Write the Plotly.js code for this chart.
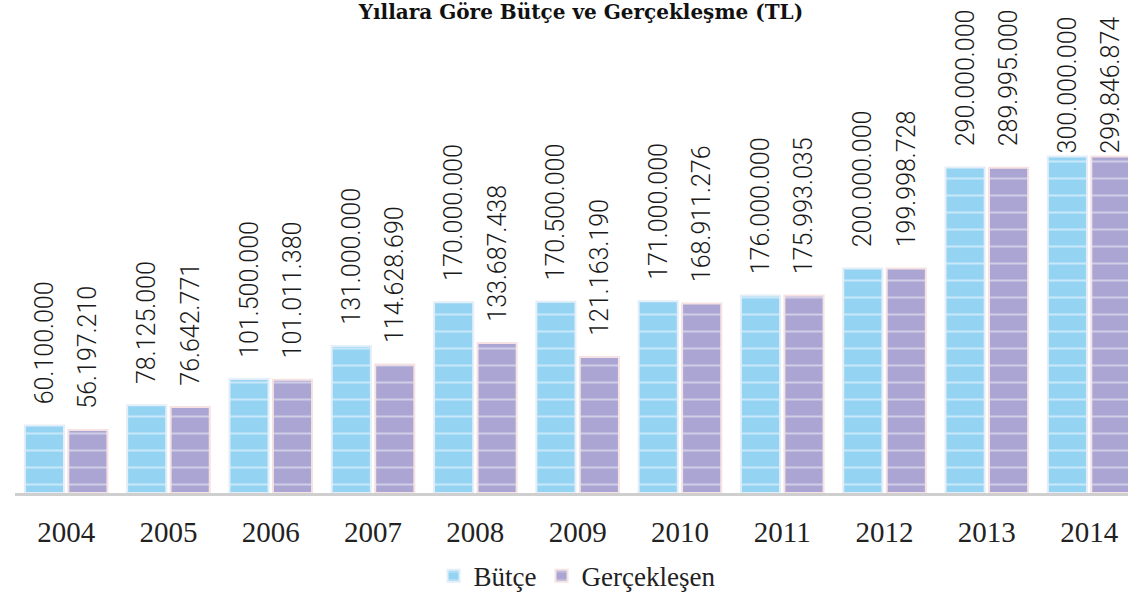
<!DOCTYPE html>
<html>
<head>
<meta charset="utf-8">
<script src="https://cdn.plot.ly/plotly-3.0.1.min.js"></script>
<style>
html,body{margin:0;padding:0;overflow:hidden;background:#fff;}
#chart{width:1128px;height:601px;}
</style>
</head>
<body>
<div id="chart"></div>
<script>
const years = ['2004','2005','2006','2007','2008','2009','2010','2011','2012','2013','2014'];
const butce = [60100000, 78125000, 101500000, 131000000, 170000000, 170500000, 171000000, 176000000, 200000000, 290000000, 300000000];
const gerceklesen = [56197210, 76642771, 101011380, 114628690, 133687438, 121163190, 168911276, 175993035, 199998728, 289995000, 299846874];
const seriesNames = ['Bütçe', 'Gerçekleşen'];
const chartTitle = 'Yıllara Göre Bütçe ve Gerçekleşme (TL)';

function fmt(v){
  return String(v).replace(/\B(?=(\d{3})+(?!\d))/g, '.');
}
// gap between bar top and its rotated label (shrinks near the top edge so labels stay inside)
function lbl(v){
  const pad = v >= 295e6 ? '' : '\u00a0\u00a0\u00a0';
  return pad + fmt(v);
}

const labelFont = {family:'Roboto', size:25, color:'#1a1a1a', weight:300};

const traces = [
  {
    type:'bar', name:seriesNames[0], x:years, y:butce,
    text:butce.map(lbl), textposition:'outside', textangle:-90,
    constraintext:'none', cliponaxis:false, textfont:labelFont,
    hoverinfo:'x+y',
    marker:{color:'#95d3f3', line:{color:'#e3eef8', width:2},
      pattern:{shape:'-', fgcolor:'rgba(255,255,255,0.95)', size:17, solidity:0.12, fillmode:'overlay'}}
  },
  {
    type:'bar', name:seriesNames[1], x:years, y:gerceklesen,
    text:gerceklesen.map(lbl), textposition:'outside', textangle:-90,
    constraintext:'none', cliponaxis:false, textfont:labelFont,
    hoverinfo:'x+y',
    marker:{color:'#aaa5d2', line:{color:'#f6e2e2', width:2},
      pattern:{shape:'-', fgcolor:'rgba(255,255,255,0.9)', size:17, solidity:0.12, fillmode:'overlay'}}
  }
];

const layout = {
  width:1128, height:601,
  margin:{l:15, r:0, t:0, b:104},
  paper_bgcolor:'#fff', plot_bgcolor:'#fff',
  barmode:'group', bargap:0.15, bargroupgap:0.1,
  title:{text:chartTitle, font:{family:'DejaVu Serif', size:20, color:'#111', weight:'bold'},
    x:0.515, xref:'container', xanchor:'center', y:0.992, yref:'container', yanchor:'top'},
  xaxis:{type:'category', range:[-0.5, 10.38], showline:true, linecolor:'#cfcfcf', linewidth:3,
    showgrid:false, zeroline:false, ticks:'', ticklabelstandoff:11,
    tickfont:{family:'Liberation Serif', size:29, color:'#222'}},
  yaxis:{range:[0, 439.4e6], showgrid:false, zeroline:false, showticklabels:false, showline:false},
  showlegend:true,
  legend:{orientation:'h', x:0.505, xanchor:'center', y:-0.169, yanchor:'middle',
    font:{family:'Liberation Serif', size:27, color:'#222'}, itemclick:false, tracegroupgap:0}
};

Plotly.newPlot('chart', traces, layout, {displayModeBar:false, staticPlot:true});
</script>
</body>
</html>
